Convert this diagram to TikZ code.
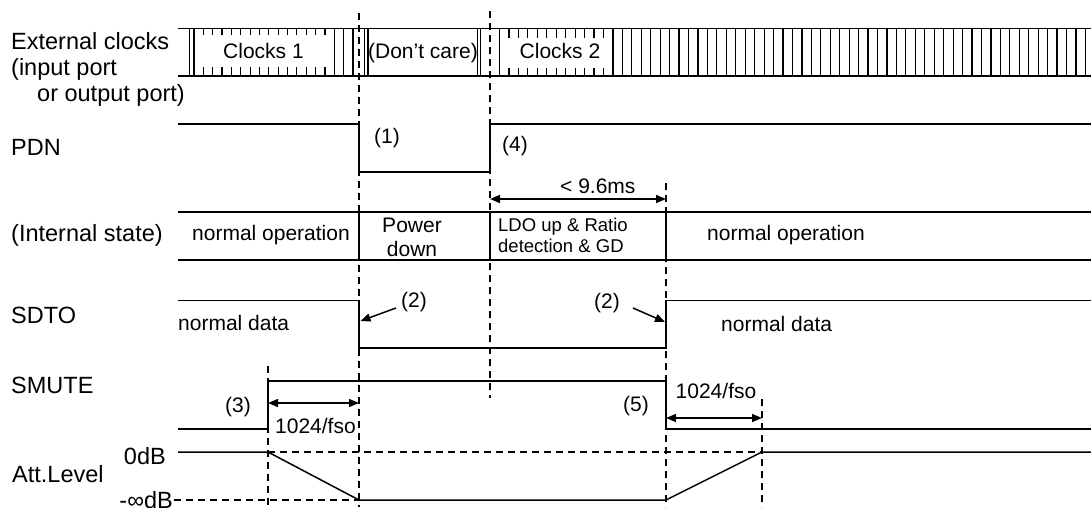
\documentclass[tikz,border=0pt]{standalone}
\usepackage{fontspec}
\setmainfont{Liberation Sans}
\usetikzlibrary{arrows.meta}
\begin{document}
\begin{tikzpicture}[x=1pt,y=-1pt,
  sig/.style={line width=1.5pt},
  guide/.style={line width=1.3pt,dash pattern=on 7pt off 5pt},
  stripe/.style={line width=1.2pt},
  lbl/.style={font=\fontsize{23.5}{27}\selectfont,inner sep=0pt,anchor=base west},
  txt/.style={font=\fontsize{21}{25}\selectfont,inner sep=0pt},
  sml/.style={font=\fontsize{18.5}{22}\selectfont,inner sep=0pt,anchor=base west},
  dimarrow/.style={line width=1.5pt,{Triangle[length=10pt,width=8pt]}-{Triangle[length=10pt,width=8pt]}},
  ptrarrow/.style={line width=1.5pt,-{Triangle[length=10pt,width=8pt]}}
]
\useasboundingbox (0,0) rectangle (1091,507);

% ---------- clock band ----------
\draw[stripe] (189.5,28.5) -- (189.5,76);
\foreach \i in {0,...,17} \draw[stripe] ({194+9.35*\i},28.5) -- ({194+9.35*\i},76);
\foreach \i in {0,...,62} \draw[stripe] ({499.5+9.45*\i},28.5) -- ({499.5+9.45*\i},76);
\draw[stripe] (364.5,28.5) -- (364.5,76);
\draw[stripe] (480.5,28.5) -- (480.5,76);
\fill[white] (200.5,35) rectangle (327,67);
\fill[white] (502,37.5) rectangle (612,67.5);
\draw[stripe] (368,28.5) -- (368,76);
\draw[stripe] (477.5,28.5) -- (477.5,76);
\draw[sig] (178,28.5) -- (1091,28.5);
\draw[sig] (178,76) -- (1091,76);

% ---------- guides ----------
\draw[guide] (359,13) -- (359,507);
\draw[guide] (490,11) -- (490,398);
\draw[guide] (666,183) -- (666,507);
\draw[guide] (268,366) -- (268,507);
\draw[guide] (762,399) -- (762,507);

% ---------- PDN ----------
\draw[sig] (178,124) -- (359,124) -- (359,172) -- (490,172) -- (490,124) -- (1091,124);

% ---------- internal state ----------
\draw[sig] (178,212) -- (1091,212);
\draw[sig] (178,260) -- (1091,260);
\draw[sig] (359,212) -- (359,260);
\draw[sig] (490,212) -- (490,260);
\draw[sig] (666,212) -- (666,260);

% ---------- SDTO ----------
\draw[sig] (178,300.5) -- (359,300.5) -- (359,348) -- (666,348) -- (666,300.5) -- (1091,300.5);

% ---------- SMUTE ----------
\draw[sig] (178,429) -- (268,429) -- (268,381) -- (666,381) -- (666,429) -- (1091,429);

% ---------- Att level ----------
\draw[guide] (268,452) -- (762,452);
\draw[guide] (174,500) -- (359,500);
\draw[sig] (178,452) -- (268,452) -- (359,500) -- (666,500) -- (762,452) -- (1091,452);

% ---------- arrows ----------
\coordinate (a96l) at (490,199);
\coordinate (a96r) at (666,199);
\draw[dimarrow] (a96l) -- (a96r);
\coordinate (f1l) at (268,403);
\coordinate (f1r) at (359,403);
\draw[dimarrow] (f1l) -- (f1r);
\coordinate (f2l) at (666,418);
\coordinate (f2r) at (762,418);
\draw[dimarrow] (f2l) -- (f2r);
\coordinate (p1s) at (396,308);
\coordinate (p1e) at (360.5,321);
\draw[ptrarrow] (p1s) -- (p1e);
\coordinate (p2s) at (633,308);
\coordinate (p2e) at (665,322);
\draw[ptrarrow] (p2s) -- (p2e);

% ---------- left labels ----------
\node[lbl] (ext1) at (11,49.5) {External clocks};
\node[lbl] (ext2) at (11,75) {(input port};
\node[lbl] (ext3) at (37,101) {or output port)};
\node[lbl] (pdn) at (11,155) {PDN};
\node[lbl] (ist) at (11,241) {(Internal state)};
\node[lbl] (sdto) at (11,323) {SDTO};
\node[lbl] (smute) at (11,393) {SMUTE};
\node[lbl] (att) at (12,482.5) {Att.Level};
\node[lbl,anchor=base east] (zdb) at (166,464) {0dB};
\node[lbl,anchor=base east] (idb) at (173,508.5) {-∞dB};

% ---------- inner texts ----------
\node[txt,anchor=base] (c1) at (263.5,58) {Clocks 1};
\node[txt,anchor=base] (dc) at (423,58) {(Don’t care)};
\node[txt,anchor=base] (c2) at (560,58) {Clocks 2};
\node[txt] (n1) at (387,138.5) {(1)};
\node[txt] (n4) at (515,146.5) {(4)};
\node[txt,anchor=base west] (t96) at (560,193.3) {< 9.6ms};
\node[txt,anchor=base west] (no1) at (192,240) {normal operation};
\node[txt,anchor=base] (pw1) at (412,232.5) {Power};
\node[txt,anchor=base] (pw2) at (412,256.5) {down};
\node[sml] (ldo1) at (498,231) {LDO up \& Ratio};
\node[sml] (ldo2) at (498,252) {detection \& GD};
\node[txt,anchor=base west] (no2) at (707,240) {normal operation};
\node[txt,anchor=base west] (nd1) at (178,330) {normal data};
\node[txt,anchor=base west] (nd2) at (721,331) {normal data};
\node[txt] (n2a) at (414,302) {(2)};
\node[txt] (n2b) at (607,303) {(2)};
\node[txt] (n3) at (238,407.5) {(3)};
\node[txt] (n5) at (636,406) {(5)};
\node[txt,anchor=base west] (f1) at (275,433.3) {1024/fso};
\node[txt,anchor=base west] (f2) at (675.5,398.3) {1024/fso};
\end{tikzpicture}
\end{document}
